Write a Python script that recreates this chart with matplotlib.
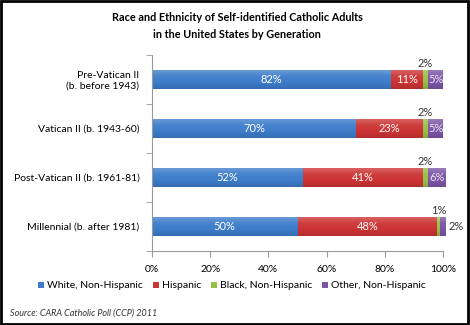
import numpy as np
import matplotlib.pyplot as plt
from matplotlib.colors import LinearSegmentedColormap, to_rgb
from matplotlib.patches import Rectangle
from matplotlib.ticker import FuncFormatter

plt.rcParams["font.family"] = ["Lato", "DejaVu Sans"]

generations = [
    "Pre-Vatican II\n(b. before 1943)",
    "Vatican II (b. 1943-60)",
    "Post-Vatican II (b. 1961-81)",
    "Millennial (b. after 1981)",
]
groups = ["White, Non-Hispanic", "Hispanic", "Black, Non-Hispanic", "Other, Non-Hispanic"]
white = [82, 70, 52, 50]
hispanic = [11, 23, 41, 48]
black = [2, 2, 2, 1]
other = [5, 5, 6, 2]
colors = ["#3d7cca", "#cc3333", "#96c043", "#7d55a6"]


def shade(col, f):
    r, g, b = to_rgb(col)
    if f > 0:
        return (r + (1 - r) * f, g + (1 - g) * f, b + (1 - b) * f)
    return (r * (1 + f), g * (1 + f), b * (1 + f))


fig = plt.figure(figsize=(4.7, 3.25), dpi=100)
ax = fig.add_axes([152 / 470, 1 - 251 / 325, 291 / 470, 196 / 325])

series = [white, hispanic, black, other]
y = list(range(len(generations)))
left = [0] * len(generations)
bars = []
grad = np.linspace(0, 1, 32).reshape(-1, 1)
for vals, col, name in zip(series, colors, groups):
    b = ax.barh(y, vals, left=left, height=0.37, color=col, label=name, edgecolor="none")
    cmap = LinearSegmentedColormap.from_list(
        name, [shade(col, 0.22), shade(col, 0.05), col, shade(col, -0.12)])
    # Excel-style vertical gradient painted inside each segment
    for rect in b.patches:
        x, yb = rect.get_x(), rect.get_y()
        w, h = rect.get_width(), rect.get_height()
        im = ax.imshow(grad, cmap=cmap, aspect="auto", extent=(x, x + w, yb + h, yb),
                       origin="upper", zorder=rect.get_zorder(), interpolation="bilinear")
        im.set_clip_path(rect)
    bars.append(b)
    left = [l + v for l, v in zip(left, vals)]

# value labels: white inside the wide segments, dark above the thin green one
for i in y:
    x0 = 0
    for k, vals in enumerate(series):
        v = vals[i]
        cx = x0 + v / 2
        if k < 2:
            ax.text(cx, i, f"{v}%", ha="center", va="center", color="white", fontsize=8, zorder=5)
        elif k == 2:
            ax.text(cx, i - 0.22, f"{v}%", ha="center", va="bottom", color="#333333", fontsize=8, zorder=5)
        else:
            if v >= 4:
                ax.text(cx, i, f"{v}%", ha="center", va="center", color="#ece4f4", fontsize=8, zorder=5)
            else:
                ax.text(x0 + v + 1, i, f"{v}%", ha="left", va="center", color="#333333", fontsize=8, zorder=5)
        x0 += v

ax.set_xlim(0, 100)
ax.set_ylim(3.5, -0.5)
ax.set_xticks(range(0, 101, 20))
ax.xaxis.set_major_formatter(FuncFormatter(lambda v, _: f"{v:.0f}%"))
ax.set_yticks(y)
ax.set_yticklabels(generations, fontsize=7.5)
ax.set_yticks([-0.5, 0.5, 1.5, 2.5, 3.5], minor=True)
ax.tick_params(axis="y", which="major", length=0, pad=9)
ax.tick_params(axis="y", which="minor", length=4, color="#999999")
ax.tick_params(axis="x", length=4, color="#999999", labelsize=7.5, pad=6)
for s in ["top", "right"]:
    ax.spines[s].set_visible(False)
ax.spines["left"].set_color("#999999")
ax.spines["bottom"].set_color("#999999")

fig.text(0.505, 1 - 26 / 325, "Race and Ethnicity of Self-identified Catholic Adults\nin the United States by Generation",
         ha="center", va="center", fontsize=7.8, fontweight="bold", linespacing=1.7)

fig.legend(handles=bars, labels=groups, loc="center left", bbox_to_anchor=(38 / 470, 1 - 286 / 325),
           ncol=4, frameon=False, fontsize=7.5, handlelength=0.6, handleheight=0.6,
           handletextpad=0.3, columnspacing=0.9, borderpad=0, borderaxespad=0)

fig.text(10 / 470, 1 - 313 / 325, "Source: CARA Catholic Poll (CCP) 2011", fontsize=6.5,
         style="italic", va="center", color="#333333")

fig.patches.append(Rectangle((0.003, 0.004), 0.992, 0.992, transform=fig.transFigure,
                             fill=False, edgecolor="black", linewidth=2))

fig.savefig("out.png", dpi=100)
